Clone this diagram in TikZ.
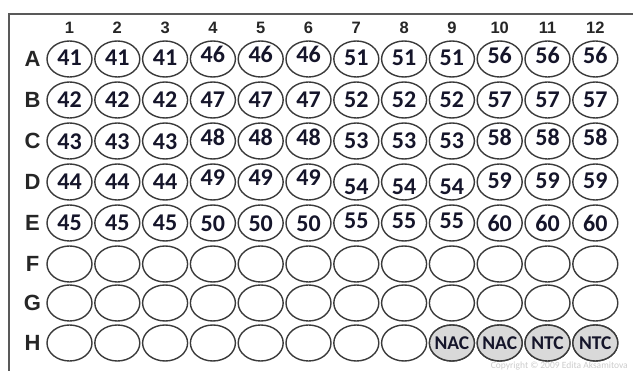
\documentclass[tikz,border=0pt]{standalone}
\usepackage{fontspec}
\setmainfont{Carlito}
\newfontfamily\labfont{Liberation Sans}
\usetikzlibrary{shapes.geometric}
\definecolor{wellline}{HTML}{3A3A3A}
\definecolor{numcol}{HTML}{15152A}
\definecolor{ctrlfill}{HTML}{D9D9D9}
\begin{document}
\begin{tikzpicture}[x=1pt,y=-1pt,
  well/.style={draw=wellline, line width=1.4pt, ellipse, minimum width=45pt, minimum height=36pt, inner sep=0pt},
  ctrlwell/.style={well, fill=ctrlfill},
  num/.style={font=\bfseries\fontsize{24}{24}\selectfont, text=numcol, inner sep=0pt},
  ctrltxt/.style={font=\bfseries\fontsize{19.5}{19.5}\selectfont, text=numcol, inner sep=0pt},
  collab/.style={font=\labfont\bfseries\fontsize{16.5}{16.5}\selectfont, text=black!85, inner sep=0pt},
  rowlab/.style={font=\labfont\bfseries\fontsize{22}{22}\selectfont, text=black!85, inner sep=0pt},
  frame/.style={draw=black!65, line width=1.5pt}
]
\useasboundingbox (0,0) rectangle (633,371);
\begin{scope}
\clip (0,0) rectangle (633,371);
\draw[frame] (9,400) -- (9,14) -- (660,14);
\end{scope}
% column labels
\foreach \c in {1,...,12}{
  \pgfmathsetmacro\xx{69.5+47.8*(\c-1)}
  \node[collab] (col\c) at (\xx,27.5) {\c};
}
% rows
\foreach \r/\yy in {A/59,B/100,C/141,D/182,E/223,F/264,G/303,H/343}{
  \node[rowlab] (row\r) at (32.5,\yy) {\r};
  \foreach \c in {1,...,12}{
    \pgfmathsetmacro\xx{69.5+47.8*(\c-1)}
    \node[well] (w\r\c) at (\xx,\yy) {};
  }
}
% sample numbers
\foreach \r/\n/\qa/\qb/\qc/\qd in {A/41/-1/-5/-1/-4, B/42/0/0/0/0, C/43/1/-4/0/-4, D/44/0/-4/5/-1, E/45/0/1/-2/0}{
  \foreach \c in {1,...,12}{
    \pgfmathtruncatemacro\grp{(\c-1)/3}
    \pgfmathtruncatemacro\val{\n+5*\grp}
    \pgfmathsetmacro\shft{-1*((\grp==0)*\qa+(\grp==1)*\qb+(\grp==2)*\qc+(\grp==3)*\qd)}
    \node[num, yshift=\shft pt] (t\r\c) at (w\r\c) {\val};
  }
}
% controls
\foreach \c/\t in {9/NAC,10/NAC,11/NTC,12/NTC}{
  \node[ctrlwell] at (wH\c) {};
  \node[ctrltxt] (tH\c) at (wH\c) {\t};
}
\node[font=\fontsize{9.5}{9.5}\selectfont, text=black!20, anchor=east, inner sep=0pt] (copy) at (628,366) {Copyright © 2009 Edita Aksamitova};
\end{tikzpicture}
\end{document}
